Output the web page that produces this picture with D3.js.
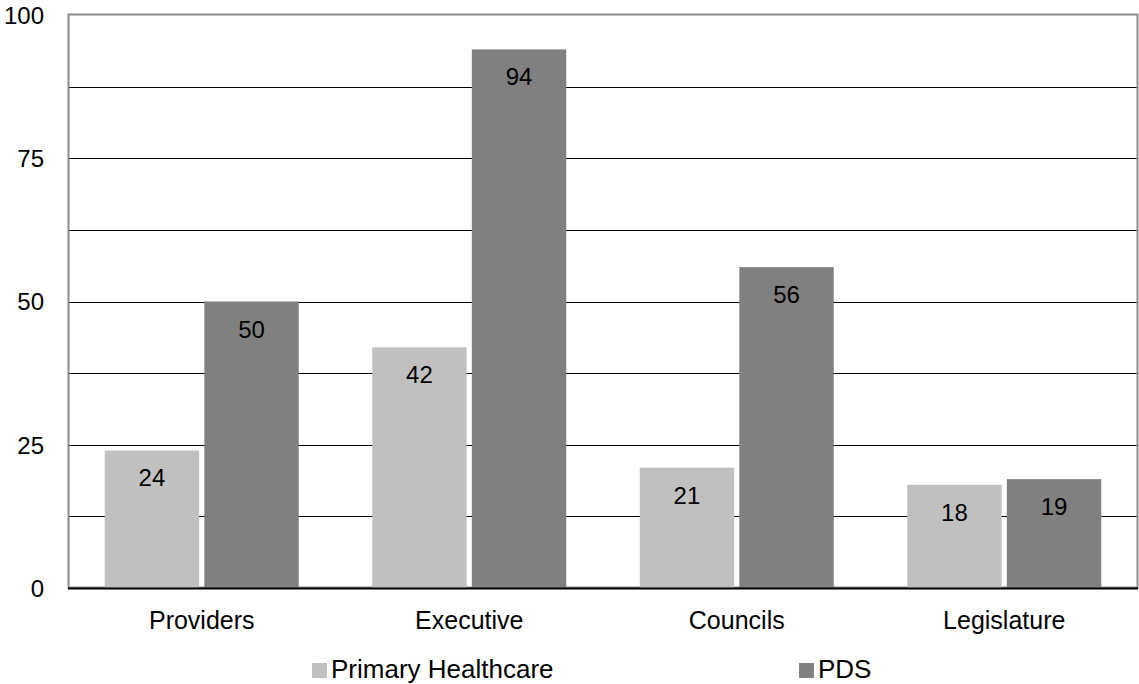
<!DOCTYPE html>
<html><head><meta charset="utf-8">
<script src="https://cdn.jsdelivr.net/npm/d3@7"></script>
<style>body{margin:0;background:#fff}svg{display:block}text{font-family:"Liberation Sans",Arial,sans-serif}</style>
</head><body><svg id="c" width="1139" height="684"></svg>
<script>
const categories = ["Providers","Executive","Councils","Legislature"];
const seriesNames = ["Primary Healthcare","PDS"];
const primary = [24,42,21,18];
const pds = [50,94,56,19];
const yTicks = [0,25,50,75,100];
const gridValues = [12.5,25,37.5,50,62.5,75,87.5];
const colors = ["#c0c0c0","#808080"];

const FONT = "Liberation Sans, Arial, sans-serif";
const svg = d3.select("#c");
const L=68, R=1138, T=15, B=588;
const x = d3.scaleBand().domain(categories).range([L,R]).paddingInner(0).paddingOuter(0);
const y = d3.scaleLinear().domain([0,100]).range([B,T]);
const barW = 92, gap = 10;
const xs = d3.scaleBand().domain(seriesNames).range([0,barW*2+gap]).paddingInner(gap/(barW*2+gap));

// gridlines
svg.append("g").selectAll("line").data(gridValues).join("line")
  .attr("x1",L).attr("x2",R).attr("y1",d=>Math.round(y(d))+0.5).attr("y2",d=>Math.round(y(d))+0.5)
  .attr("stroke","#000").attr("stroke-width",1);

// frame
svg.append("rect").attr("x",L+0.5).attr("y",T-0.5).attr("width",R-L-1).attr("height",B-T)
  .attr("fill","none").attr("stroke","#8c8c8c").attr("stroke-width",2);

const data = [primary,pds];
const groupOff = (x.bandwidth()-(barW*2+gap))/2;
data.forEach((vals,si)=>{
  const g = svg.append("g");
  g.selectAll("rect").data(vals).join("rect")
    .attr("x",(d,i)=>x(categories[i])+groupOff+xs(seriesNames[si]))
    .attr("y",d=>y(d)).attr("width",xs.bandwidth()).attr("height",d=>B-y(d))
    .attr("fill",colors[si]);
  g.selectAll("text").data(vals).join("text")
    .attr("x",(d,i)=>x(categories[i])+groupOff+xs(seriesNames[si])+xs.bandwidth()/2)
    .attr("y",d=>y(d)+36).attr("text-anchor","middle").attr("font-size",24).attr("font-family",FONT).attr("fill","#000")
    .text(d=>d);
});

// x axis line
svg.append("line").attr("x1",L).attr("x2",R).attr("y1",B+0.5).attr("y2",B+0.5).attr("stroke","#000").attr("stroke-width",2);

// y labels
const yAxis = d3.axisLeft(y).tickValues(yTicks).tickSize(0).tickPadding(0);
const ya = svg.append("g").attr("transform",`translate(44,0)`).call(yAxis);
ya.select(".domain").remove();
ya.selectAll("text").attr("font-size",24).attr("font-family",FONT).attr("fill","#000").attr("dy","0.35em");

// x labels
const xAxis = d3.axisBottom(x).tickSize(0).tickPadding(0);
const xa = svg.append("g").attr("transform",`translate(0,629)`).call(xAxis);
xa.select(".domain").remove();
xa.selectAll("text").attr("font-size",25).attr("font-family",FONT).attr("fill","#000").attr("dy","0");

// legend
const legX = [312,799];
const lg = svg.append("g");
seriesNames.forEach((n,i)=>{
  lg.append("rect").attr("x",legX[i]).attr("y",663).attr("width",15).attr("height",15).attr("fill",colors[i]);
  lg.append("text").attr("x",legX[i]+19).attr("y",678).attr("font-size",26).attr("font-family",FONT).attr("fill","#000").text(n);
});
</script></body></html>
